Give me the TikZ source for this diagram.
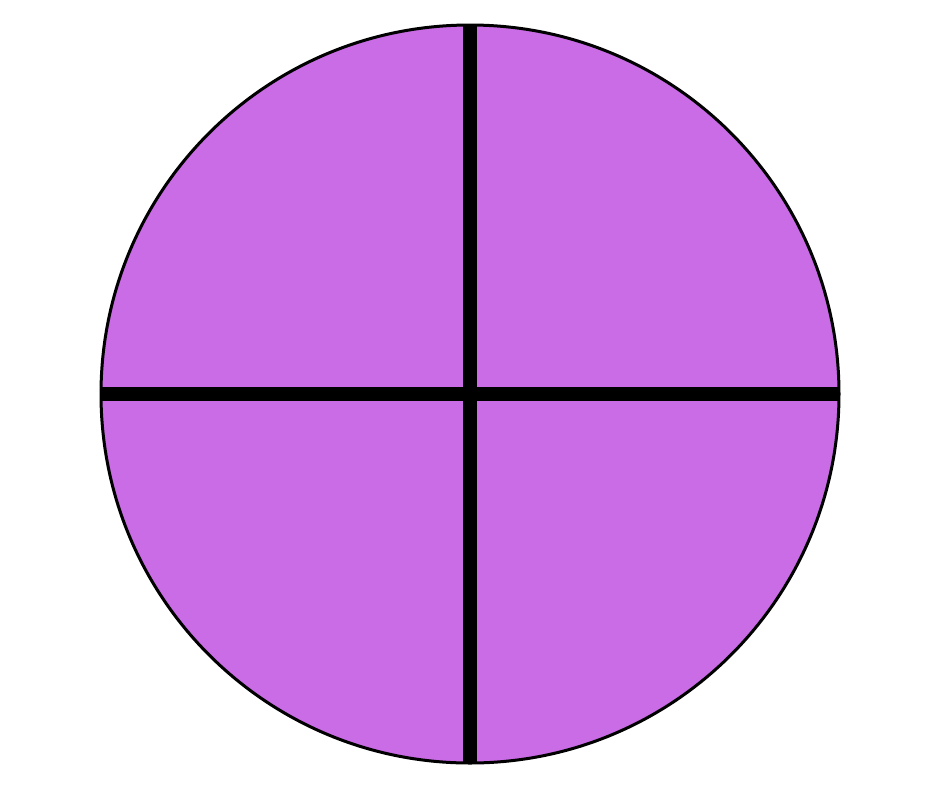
\documentclass[tikz,border=0pt]{standalone}
\definecolor{pie}{HTML}{C96CE6}
\begin{document}
\begin{tikzpicture}[x=1pt,y=-1pt,
  outline/.style={draw=black,line width=3pt,fill=pie},
  divider/.style={draw=black,line width=14pt}]
\useasboundingbox (0,0) rectangle (940,788);
\coordinate (c) at (470,394);
\coordinate (t) at (470,24.5);
\coordinate (b) at (470,763.5);
\coordinate (l) at (100.5,394);
\coordinate (r) at (839.5,394);
\path[outline] (c) circle[radius=369];
\draw[divider] (t) -- (b);
\draw[divider] (l) -- (r);
\end{tikzpicture}
\end{document}
